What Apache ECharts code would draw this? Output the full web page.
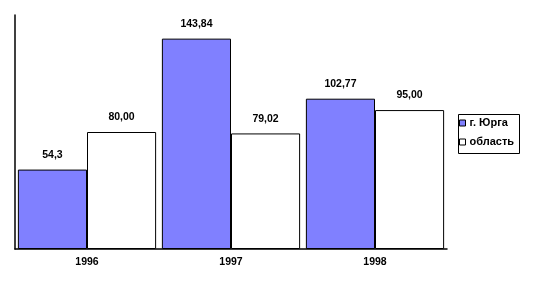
<!DOCTYPE html>
<html><head><meta charset="utf-8">
<script src="https://cdn.jsdelivr.net/npm/echarts@6/dist/echarts.min.js"></script>
<style>html,body{margin:0;padding:0;background:#fff}#c{width:536px;height:288px}</style>
</head><body><div id="c"></div>
<script>
const categories = ['1996', '1997', '1998'];
const seriesNames = ['г. Юрга', 'область'];
const yurga = [54.3, 143.84, 102.77];
const oblast = [80.00, 79.02, 95.00];
const yurgaLabels = ['54,3', '143,84', '102,77'];
const oblastLabels = ['80,00', '79,02', '95,00'];

const chart = echarts.init(document.getElementById('c'), null, {renderer: 'canvas'});
const lblFont = {fontFamily: 'Arial, "Liberation Sans"', fontWeight: 'bold', fontSize: 10.5, color: '#000'};
chart.setOption({
  animation: false,
  backgroundColor: '#fff',
  grid: {left: 15, right: 89, top: 15, bottom: 39, containLabel: false},
  graphic: [{
    type: 'rect', left: 456, top: 112, silent: true,
    shape: {width: 61, height: 39},
    style: {fill: 'none', stroke: '#000', lineWidth: 1}
  }],
  legend: {
    orient: 'vertical', left: 459, top: 117,
    padding: 0,
    itemWidth: 6, itemHeight: 6, itemGap: 7,
    icon: 'rect',
    textStyle: Object.assign({}, lblFont, {fontSize: 11, lineHeight: 12, padding: [0, 0, 0, -1]}),
    itemStyle: {borderColor: '#000', borderWidth: 1},
    data: seriesNames
  },
  xAxis: {
    type: 'category', data: categories,
    axisLine: {lineStyle: {color: '#000', width: 1.5}},
    axisTick: {show: false},
    axisLabel: Object.assign({margin: 8}, lblFont)
  },
  yAxis: {
    type: 'value', min: 0, max: 160,
    axisLine: {show: true, lineStyle: {color: '#000', width: 1.5}},
    axisTick: {show: false}, axisLabel: {show: false}, splitLine: {show: false}
  },
  series: [
    {name: seriesNames[0], type: 'bar', data: yurga, barGap: '0%', barCategoryGap: '4%',
     itemStyle: {color: '#8080ff', borderColor: '#000', borderWidth: 1},
     label: Object.assign({show: true, position: 'top', distance: 9,
       formatter: p => yurgaLabels[p.dataIndex]}, lblFont)},
    {name: seriesNames[1], type: 'bar', data: oblast, barGap: '0%', barCategoryGap: '4%',
     itemStyle: {color: '#ffffff', borderColor: '#000', borderWidth: 1},
     label: Object.assign({show: true, position: 'top', distance: 9,
       formatter: p => oblastLabels[p.dataIndex]}, lblFont)}
  ]
});
</script></body></html>
